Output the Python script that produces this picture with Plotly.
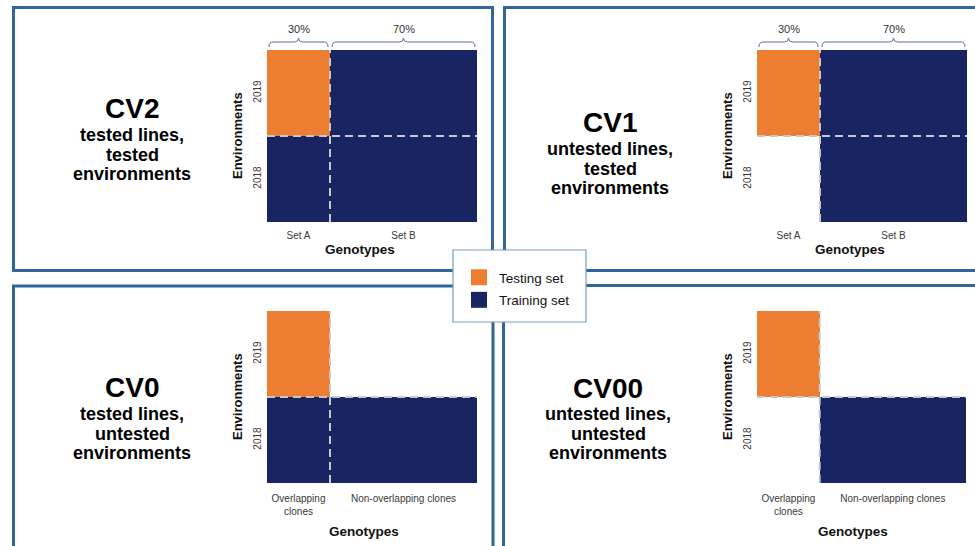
import plotly.graph_objects as go

# ---------------- data ----------------
environments = ["2018", "2019"]
genotype_labels_top = ["Set A", "Set B"]
genotype_labels_bottom = ["Overlapping<br>clones", "Non-overlapping clones"]
genotype_share = [30, 70]          # percent of genotypes in each group
set_names = ["Testing set", "Training set"]

# rows = environments (2018, 2019); cols = genotype groups
# 0 = testing set, 1 = training set, None = not used
cv2_cells = [[1, 1], [0, 1]]
cv1_cells = [[None, 1], [0, 1]]
cv0_cells = [[1, 1], [0, None]]
cv00_cells = [[None, 1], [0, None]]

scheme_names = ["CV2", "CV1", "CV0", "CV00"]
scheme_desc = [
    ["tested lines,", "tested", "environments"],
    ["untested lines,", "tested", "environments"],
    ["tested lines,", "untested", "environments"],
    ["untested lines,", "untested", "environments"],
]

# ---------------- style ----------------
W, H = 975, 546
ORANGE = "#ED7D31"
NAVY = "#182562"
BORDER = "#30669a"
DASH = "#c8c8c8"
BRACE = "#5a6ca4"
FONT = "Liberation Sans, Arial, Helvetica, sans-serif"
TICK = "#3a3a3a"


def px(x):
    return x / W


def py(y):
    return 1 - y / H


# panel layout (pixel positions)
panels = [
    dict(cells=cv2_cells, labels=genotype_labels_top, braces=True,
         plot=(267, 477, 50, 222), tx=132, ty=[109, 135, 155, 174],
         gen=(360, 250), env=237, ticklen=4),
    dict(cells=cv1_cells, labels=genotype_labels_top, braces=True,
         plot=(757, 967, 50, 222), tx=610, ty=[123, 149, 169, 188],
         gen=(850, 250), env=727, ticklen=4),
    dict(cells=cv0_cells, labels=genotype_labels_bottom, braces=False,
         plot=(267, 477, 311, 483), tx=132, ty=[387, 414, 434, 453],
         gen=(364, 531), env=237, ticklen=6),
    dict(cells=cv00_cells, labels=genotype_labels_bottom, braces=False,
         plot=(757, 966, 311, 483), tx=608, ty=[388, 414, 434, 453],
         gen=(853, 531), env=727, ticklen=6),
]

# cumulative genotype edges
edges = [0]
for s in genotype_share:
    edges.append(edges[-1] + s)
centers = [(edges[i] + edges[i + 1]) / 2 for i in range(len(genotype_share))]
row_edges = list(range(len(environments) + 1))
row_centers = [i + 0.5 for i in range(len(environments))]

fig = go.Figure()
annotations = []
shapes = []

# panel frames
frames = [(13.5, 492.5, 7.5, 270.5), (504.5, 990, 7.5, 270.5),
          (13.5, 493, 286, 560), (503.5, 990, 285.5, 560)]
for (x0, x1, y0, y1) in frames:
    shapes.append(dict(type="rect", xref="paper", yref="paper",
                       x0=px(x0), x1=px(x1), y0=py(y1), y1=py(y0),
                       line=dict(color=BORDER, width=3), layer="below"))

for i, p in enumerate(panels):
    n = "" if i == 0 else str(i + 1)
    xa, ya = "x" + n, "y" + n
    x0, x1, y0, y1 = p["plot"]
    fig.add_trace(go.Heatmap(
        x=edges, y=row_edges, z=p["cells"], zmin=0, zmax=1,
        colorscale=[[0, ORANGE], [0.5, ORANGE], [0.5, NAVY], [1, NAVY]],
        showscale=False, hoverinfo="skip", xgap=0, ygap=0,
        xaxis=xa, yaxis=ya))
    # dashed separators between groups
    fig.add_trace(go.Scatter(
        x=[edges[1], edges[1]], y=[row_edges[0], row_edges[-1]], mode="lines",
        line=dict(color=DASH, width=2, dash="8px,5px"), hoverinfo="skip",
        showlegend=False, xaxis=xa, yaxis=ya))
    fig.add_trace(go.Scatter(
        x=[edges[0], edges[-1]], y=[row_edges[1], row_edges[1]], mode="lines",
        line=dict(color=DASH, width=2, dash="8px,5px"), hoverinfo="skip",
        showlegend=False, xaxis=xa, yaxis=ya))

    # braces with percentages (in axis-domain units so they can sit above the plot)
    if p["braces"]:
        pw = x1 - x0
        ph = y1 - y0
        y_tip, y_bar, y_peak, y_lab = 1 + 3 / ph, 1 + 8 / ph, 1 + 12 / ph, 1 + 21 / ph
        r = 4 / pw
        for k in range(len(genotype_share)):
            a = edges[k] / edges[-1] + 2 / pw
            b = edges[k + 1] / edges[-1] - 2 / pw
            m = (a + b) / 2
            path = (f"M {a},{y_tip} Q {a},{y_bar} {a + r},{y_bar} "
                    f"L {m - r},{y_bar} Q {m},{y_bar} {m},{y_peak} "
                    f"Q {m},{y_bar} {m + r},{y_bar} "
                    f"L {b - r},{y_bar} Q {b},{y_bar} {b},{y_tip}")
            shapes.append(dict(type="path", xref=xa + " domain", yref=ya + " domain",
                               path=path, line=dict(color=BRACE, width=1)))
            annotations.append(dict(
                x=(edges[k] + edges[k + 1]) / 2 / edges[-1], y=y_lab,
                xref=xa + " domain", yref=ya + " domain", text=f"{genotype_share[k]}%",
                showarrow=False, font=dict(size=11, color="#333333", family=FONT),
                xanchor="center", yanchor="middle"))

    dom_x = [px(x0), px(x1)]
    dom_y = [py(y1), py(y0)]
    fig.update_layout(**{
        ("xaxis" + n): dict(domain=dom_x, range=[edges[0], edges[-1]], anchor=ya,
                            tickvals=centers, ticktext=p["labels"], ticks="outside",
                            ticklen=p["ticklen"], tickcolor="rgba(0,0,0,0)",
                            showgrid=False, zeroline=False, showline=False,
                            tickfont=dict(size=10, color=TICK, family=FONT),
                            fixedrange=True),
        ("yaxis" + n): dict(domain=dom_y, range=[row_edges[0], row_edges[-1]], anchor=xa,
                            tickvals=row_centers, ticktext=environments, ticks="outside",
                            ticklen=1, tickcolor="rgba(0,0,0,0)", tickangle=-90,
                            showgrid=False, zeroline=False, showline=False,
                            tickfont=dict(size=10, color=TICK, family=FONT),
                            fixedrange=True),
    })

    # axis titles
    annotations.append(dict(x=px(p["gen"][0]), y=py(p["gen"][1]), xref="paper", yref="paper",
                            text="<b>Genotypes</b>", showarrow=False,
                            font=dict(size=13.5, color="#111111", family=FONT),
                            xanchor="center", yanchor="middle"))
    annotations.append(dict(x=px(p["env"]), y=py((y0 + y1) / 2), xref="paper", yref="paper",
                            text="<b>Environments</b>", showarrow=False, textangle=-90,
                            font=dict(size=13, color="#111111", family=FONT),
                            xanchor="center", yanchor="middle"))

    # scheme name and description
    annotations.append(dict(x=px(p["tx"]), y=py(p["ty"][0]), xref="paper", yref="paper",
                            text=f"<b>{scheme_names[i]}</b>", showarrow=False,
                            font=dict(size=28, color="#000000", family=FONT),
                            xanchor="center", yanchor="middle"))
    for line, yy in zip(scheme_desc[i], p["ty"][1:]):
        annotations.append(dict(x=px(p["tx"]), y=py(yy), xref="paper", yref="paper",
                                text=f"<b>{line}</b>", showarrow=False,
                                font=dict(size=18, color="#000000", family=FONT),
                                xanchor="center", yanchor="middle"))

# legend box
shapes.append(dict(type="rect", xref="paper", yref="paper",
                   x0=px(453), x1=px(586), y0=py(322), y1=py(250),
                   fillcolor="white", line=dict(color="#7d9cbd", width=1.2), layer="below"))

for name, col in zip(set_names, [ORANGE, NAVY]):
    fig.add_trace(go.Scatter(x=[None], y=[None], mode="markers", name=name,
                             legendgroup=name,
                             marker=dict(symbol="square", size=17, color=col),
                             showlegend=True, xaxis="x", yaxis="y"))

fig.update_layout(
    width=W, height=H, margin=dict(l=0, r=0, t=0, b=0),
    paper_bgcolor="white", plot_bgcolor="white",
    font=dict(family=FONT),
    showlegend=True,
    legend=dict(x=px(459), y=py(262), xanchor="left", yanchor="top",
                bgcolor="rgba(0,0,0,0)", borderwidth=0,
                font=dict(size=13.5, color="#111111", family=FONT),
                itemsizing="trace", tracegroupgap=2),
    annotations=annotations, shapes=shapes,
)

fig.write_html("out.html", config={"displayModeBar": False},
               post_script="document.body.style.margin='0';")
